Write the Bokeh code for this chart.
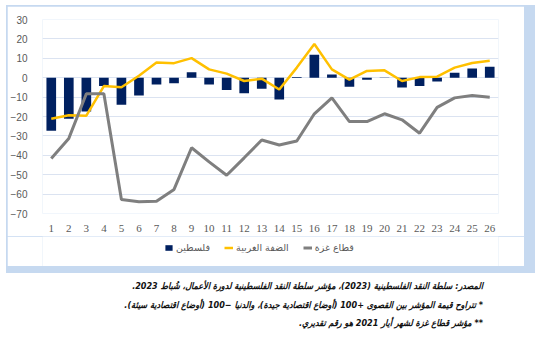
from bokeh.plotting import figure
from bokeh.layouts import column
from bokeh.models import (ColumnDataSource, FixedTicker, Legend, LegendItem,
                          Range1d, Div)
from bokeh.embed import file_html
from bokeh.resources import INLINE

# ---- data ----
months = list(range(1, 27))
palestine = [-27.4, -21.2, -17.4, -4.3, -13.9, -9.2, -3.5, -2.8, 2.8, -3.5,
             -6.4, -8.0, -5.7, -11.3, 0.3, 11.8, 1.6, -4.7, -1.0, -0.2,
             -5.0, -4.3, -1.9, 2.6, 4.7, 5.6]
west_bank = [-21.2, -19.4, -19.6, -4.3, -4.9, 1.0, 7.8, 7.5, 10.1, 4.3,
             2.1, -1.7, -0.5, -6.1, 5.2, 17.4, 4.3, -1.0, 3.5, 3.8,
             -1.7, 0.3, 0.5, 5.2, 7.6, 8.7]
gaza = [-41.7, -31.3, -8.3, -8.3, -62.8, -63.9, -63.7, -57.6, -36.1, -43.4,
        -50.3, -41.3, -32.1, -34.7, -32.6, -18.6, -10.4, -22.6, -22.6, -18.6,
        -21.7, -28.6, -15.3, -10.4, -9.2, -10.1]
y_ticks = [30, 20, 10, 0, -10, -20, -30, -40, -50, -60, -70]
series_names = ["فلسطين", "الضفة الغربية", "قطاع غزة"]
series_colors = ["#002060", "#FFC000", "#7F7F7F"]
notes = [
    "المصدر: سلطة النقد الفلسطينية (2023)، مؤشر سلطة النقد الفلسطينية لدورة الأعمال، شُباط 2023.",
    "* تتراوح قيمة المؤشر بين القصوى +100 (أوضاع اقتصادية جيدة)، والدنيا −100 (أوضاع اقتصادية سيئة).",
    "** مؤشر قطاع غزة لشهر أيار 2021 هو رقم تقديري.",
]

blue = "#c6d9f0"

# ---- chart ----
CW, CH = 517, 230
FL, FR, FT, FB = 33, 491, 13, 207   # frame edges inside chart canvas

src = ColumnDataSource(dict(x=months, pal=palestine, wb=west_bank, gz=gaza))

p = figure(width=CW, height=CH, output_backend="svg", toolbar_location=None,
           x_range=(0.5, 26.5), y_range=(-70, 30),
           min_border_left=FL, min_border_right=CW - FR,
           min_border_top=FT, min_border_bottom=CH - FB)
p.outline_line_color = None
p.background_fill_color = "white"
p.border_fill_color = "white"

bar_style = dict(fill_color=series_colors[0], line_color=None)
wb_style = dict(line_color=series_colors[1], line_width=2.5)
gz_style = dict(line_color=series_colors[2], line_width=3)

p.vbar(x="x", top="pal", bottom=0, width=0.55, source=src, **bar_style)
p.line("x", "wb", source=src, **wb_style)
p.line("x", "gz", source=src, **gz_style)

p.xgrid.grid_line_color = None
p.ygrid.grid_line_color = "#dbe3f1"
p.ygrid.grid_line_width = 1

p.xaxis.ticker = FixedTicker(ticks=months)
p.yaxis.ticker = FixedTicker(ticks=y_ticks)
for ax in (p.xaxis[0], p.yaxis[0]):
    ax.axis_line_color = None
    ax.major_tick_line_color = None
    ax.minor_tick_line_color = None
    ax.major_label_text_color = "#595959"
p.xaxis.major_label_text_font = "Liberation Serif"
p.xaxis.major_label_text_font_size = "11px"
p.xaxis.major_label_standoff = 5
p.yaxis.major_label_text_font = "Liberation Sans"
p.yaxis.major_label_text_font_size = "10px"
p.yaxis.major_label_standoff = 9

# ---- legend strip: the same series, drawn on off-screen ranges ----
LW, LH = 517, 30
lf = figure(width=LW, height=LH, output_backend="svg", toolbar_location=None,
            x_range=Range1d(0, LW), y_range=Range1d(0, LH),
            min_border=0, x_axis_type=None, y_axis_type=None)
lf.extra_x_ranges = {"off": Range1d(100, 200)}
lf.extra_y_ranges = {"off": Range1d(100, 200)}
lf.outline_line_color = None
lf.grid.visible = False
lf.border_fill_color = "white"
lf.background_fill_color = "white"
off = dict(x_range_name="off", y_range_name="off")
r_bar = lf.vbar(x="x", top="pal", bottom=0, width=0.55, source=src, **off, **bar_style)
r_wb = lf.line("x", "wb", source=src, **off, **wb_style)
r_gz = lf.line("x", "gz", source=src, **off, **gz_style)
legend = Legend(items=[LegendItem(label=series_names[0], renderers=[r_bar]),
                       LegendItem(label=series_names[1], renderers=[r_wb]),
                       LegendItem(label=series_names[2], renderers=[r_gz])],
                orientation="horizontal", location=(122, 13),
                padding=0, margin=0, spacing=14, label_standoff=3,
                glyph_width=9, glyph_height=7, label_height=10,
                label_text_font="DejaVu Sans", label_text_font_size="9.5px",
                label_text_color="#595959", background_fill_alpha=0,
                border_line_color=None)
lf.add_layout(legend, "center")

box = column(p, lf, styles={"background-color": blue,
                            "padding": "1px 11px 7px 1px",
                            "margin": "5px 0px 0px 6px"})

# ---- notes below the box (right-to-left text) ----
notes_html = (
    '<div dir="rtl" style="width:477px;font-family:\'DejaVu Sans Condensed\',\'DejaVu Sans\';'
    'font-weight:bold;font-style:italic;font-size:9px;line-height:18.5px;'
    'color:#111111;text-align:right;white-space:nowrap;">'
    + "<br>".join(notes) + "</div>"
)
notes_div = Div(text=notes_html, width=477, height=60, margin=(4, 0, 0, 6))

layout = column(box, notes_div)
open("out.html", "w").write(file_html(layout, INLINE))
